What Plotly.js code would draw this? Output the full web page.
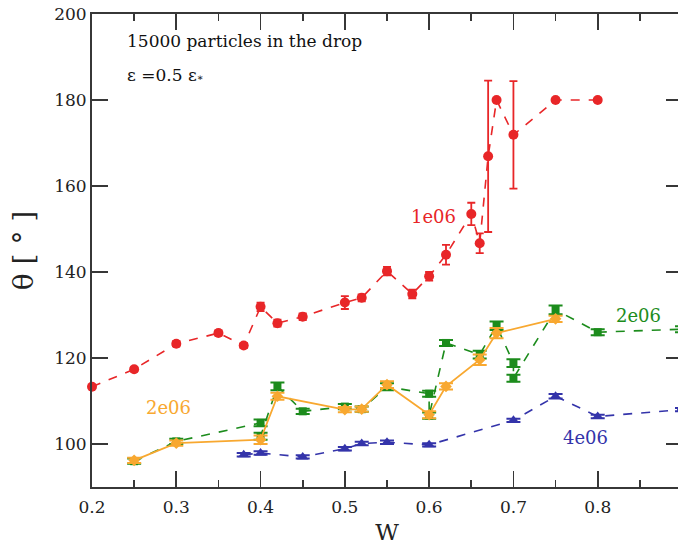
<!DOCTYPE html>
<html>
<head>
<meta charset="utf-8">
<script src="https://cdn.plot.ly/plotly-3.0.1.min.js"></script>
<style>
html, body { margin: 0; padding: 0; overflow: hidden; background: #fff; }
#chart { width: 682px; height: 545px; }
</style>
</head>
<body>
<div id="chart"></div>
<script>
// 1e06 (red)
const redX = [0.2, 0.25, 0.3, 0.35, 0.38, 0.4, 0.42, 0.45, 0.5, 0.52, 0.55, 0.58, 0.6, 0.62, 0.65, 0.66, 0.67, 0.68, 0.7, 0.75, 0.8];
const redY = [113.3, 117.4, 123.3, 125.8, 122.9, 131.9, 128.1, 129.6, 132.9, 134.0, 140.2, 134.9, 139.0, 144.0, 153.5, 146.7, 166.9, 180.0, 171.9, 180.0, 180.0];
const redErr = [0.3, 0.5, 0.6, 0.6, 0.6, 1.0, 0.8, 0.8, 1.5, 0.8, 1.0, 1.0, 1.0, 2.3, 2.6, 2.3, 17.6, 0.3, 12.5, 0.3, 0.3];

// 2e06 (green, dashed)
const greenX = [0.25, 0.3, 0.4, 0.4, 0.42, 0.45, 0.5, 0.52, 0.55, 0.6, 0.6, 0.62, 0.66, 0.68, 0.7, 0.7, 0.75, 0.8, 0.9];
const greenY = [96.0, 100.6, 104.9, 101.8, 113.4, 107.6, 108.7, 108.1, 113.3, 111.7, 106.6, 123.5, 120.8, 127.5, 118.8, 115.3, 131.2, 126.0, 126.7];
const greenErr = [0.6, 0.6, 0.8, 0.8, 0.9, 0.6, 0.6, 0.6, 0.8, 0.7, 0.7, 0.7, 0.9, 1.0, 0.9, 0.8, 1.0, 0.7, 0.7];

// 2e06 (orange, solid)
const orangeX = [0.25, 0.3, 0.4, 0.42, 0.5, 0.52, 0.55, 0.6, 0.62, 0.66, 0.68, 0.75];
const orangeY = [96.2, 100.2, 101.0, 111.1, 108.0, 108.1, 113.8, 106.8, 113.4, 119.6, 125.8, 129.1];
const orangeErr = [0.6, 0.6, 1.0, 0.8, 0.6, 0.6, 0.8, 0.8, 0.7, 1.2, 1.2, 0.7];

// 4e06 (blue)
const blueX = [0.38, 0.4, 0.45, 0.5, 0.52, 0.55, 0.6, 0.7, 0.75, 0.8, 0.9];
const blueY = [97.5, 97.9, 97.0, 98.9, 100.1, 100.4, 99.8, 105.5, 111.1, 106.4, 108.0];
const blueErr = [0.4, 0.4, 0.4, 0.4, 0.4, 0.4, 0.4, 0.4, 0.5, 0.4, 0.4];

const RED = 'rgb(232,38,40)', GREEN = 'rgb(28,140,28)', ORANGE = 'rgb(248,168,48)', BLUE = 'rgb(52,52,170)';
const SERIF = 'DejaVu Serif, Liberation Serif, serif';
const AX = 'rgb(55,55,55)';

const traces = [
  { x: redX, y: redY, mode: 'lines+markers', cliponaxis: false,
    line: { color: RED, width: 1.6, dash: 'dash' },
    marker: { color: RED, symbol: 'circle', size: 10 },
    error_y: { type: 'data', array: redErr, color: RED, thickness: 1.8, width: 4 } },
  { x: greenX, y: greenY, mode: 'lines+markers', cliponaxis: false,
    line: { color: GREEN, width: 1.6, dash: 'dash' },
    marker: { color: GREEN, symbol: 'square', size: 8 },
    error_y: { type: 'data', array: greenErr, color: GREEN, thickness: 2, width: 7 } },
  { x: orangeX, y: orangeY, mode: 'lines+markers', cliponaxis: false,
    line: { color: ORANGE, width: 1.8 },
    marker: { color: ORANGE, symbol: 'diamond', size: 9 },
    error_y: { type: 'data', array: orangeErr, color: ORANGE, thickness: 2, width: 7 } },
  { x: blueX, y: blueY, mode: 'lines+markers', cliponaxis: false,
    line: { color: BLUE, width: 1.6, dash: 'dash' },
    marker: { color: BLUE, symbol: 'triangle-up', size: 10 },
    error_y: { type: 'data', array: blueErr, color: BLUE, thickness: 2, width: 7 } }
];

const layout = {
  width: 682, height: 545,
  margin: { l: 92, r: 0, t: 14, b: 58 },
  paper_bgcolor: '#fff', plot_bgcolor: '#fff',
  showlegend: false,
  font: { family: SERIF, size: 17, color: '#222' },
  xaxis: {
    range: [0.2, 0.9], dtick: 0.1, tick0: 0.2, tickformat: '.1f',
    ticks: 'inside', ticklen: 16, tickwidth: 1.6, tickcolor: AX,
    minor: { dtick: 0.05, ticks: 'inside', ticklen: 7, tickwidth: 1.6, tickcolor: AX },
    showline: true, linecolor: AX, linewidth: 2, mirror: 'allticks',
    showgrid: false, zeroline: false, ticklabelstandoff: 4,
    tickfont: { family: SERIF, size: 17, color: '#222' },
    title: { text: 'W', font: { family: SERIF, size: 23, color: '#222' }, standoff: 8 }
  },
  yaxis: {
    range: [90, 200], dtick: 20, tick0: 100,
    ticks: 'inside', ticklen: 16, tickwidth: 1.6, tickcolor: AX,
    showline: true, linecolor: AX, linewidth: 2, mirror: 'allticks',
    showgrid: false, zeroline: false,
    tickfont: { family: SERIF, size: 17, color: '#222' },
    title: { text: 'θ [ ° ]', font: { family: SERIF, size: 28, color: '#222' }, standoff: 12 }
  },
  annotations: [
    { x: 0.2392, y: 193.7, xref: 'x', yref: 'y', xanchor: 'left', yanchor: 'middle', showarrow: false,
      text: '15000 particles in the drop', font: { family: SERIF, size: 17, color: '#111' } },
    { x: 0.2392, y: 185.8, xref: 'x', yref: 'y', xanchor: 'left', yanchor: 'middle', showarrow: false,
      text: "ε =0.5 ε<span style='font-size:10px'>∗</span>", font: { family: SERIF, size: 17, color: '#111' } },
    { x: 0.6046, y: 153.0, xref: 'x', yref: 'y', showarrow: false, text: '1e06', font: { family: SERIF, size: 18, color: RED } },
    { x: 0.8478, y: 129.8, xref: 'x', yref: 'y', showarrow: false, text: '2e06', font: { family: SERIF, size: 18, color: GREEN } },
    { x: 0.786, y: 101.6, xref: 'x', yref: 'y', showarrow: false, text: '4e06', font: { family: SERIF, size: 18, color: BLUE } },
    { x: 0.2913, y: 108.4, xref: 'x', yref: 'y', showarrow: false, text: '2e06', font: { family: SERIF, size: 18, color: ORANGE } }
  ]
};

Plotly.newPlot('chart', traces, layout, { displayModeBar: false, staticPlot: true });
</script>
</body>
</html>
